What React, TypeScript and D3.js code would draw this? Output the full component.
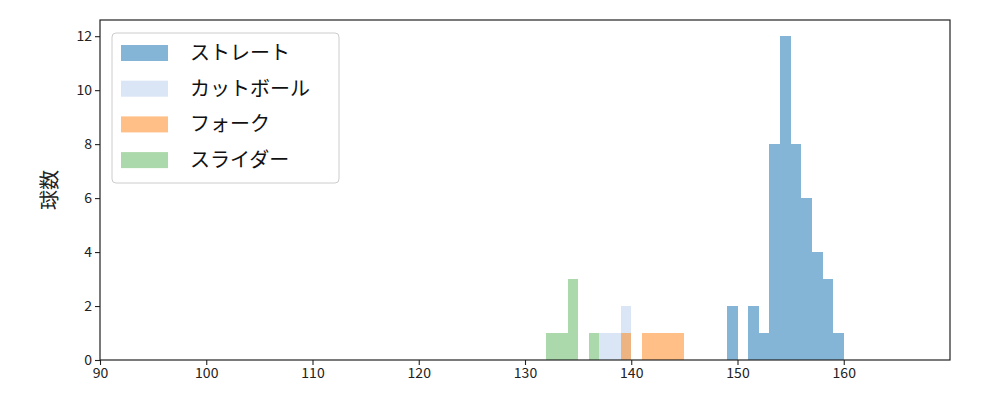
import React, { useEffect, useRef } from 'react';
import * as d3 from 'd3';

// histogram bins: left edge of each 1 km/h bin and the pitch count in it
const straightBins = [149, 150, 151, 152, 153, 154, 155, 156, 157, 158, 159];
const straightCounts = [2, 0, 2, 1, 8, 12, 8, 6, 4, 3, 1];
const cutBins = [137, 138, 139];
const cutCounts = [1, 1, 2];
const forkBins = [139, 140, 141, 142, 143, 144];
const forkCounts = [1, 0, 1, 1, 1, 1];
const sliderBins = [132, 133, 134, 135, 136];
const sliderCounts = [1, 1, 3, 0, 1];

const seriesNames = ['ストレート', 'カットボール', 'フォーク', 'スライダー'];
const seriesColors = ['#1f77b4', '#aec7e8', '#ff7f0e', '#2ca02c'];
const seriesOpacity = [0.55, 0.45, 0.5, 0.4];
const xTicks = [90, 100, 110, 120, 130, 140, 150, 160];
const yTicks = [0, 2, 4, 6, 8, 10, 12];

const FONT = '"Noto Sans CJK JP", "DejaVu Sans", sans-serif';

const App = () => {
  const ref = useRef<SVGSVGElement | null>(null);

  useEffect(() => {
    const svg = d3.select(ref.current);
    svg.selectAll('*').remove();

    const margin = { top: 20, right: 50, bottom: 40, left: 100 };
    const width = 1000 - margin.left - margin.right;
    const height = 400 - margin.top - margin.bottom;

    const g = svg.append('g').attr('transform', `translate(${margin.left},${margin.top})`);

    const x = d3.scaleLinear().domain([90, 170]).range([0, width]);
    const y = d3.scaleLinear().domain([0, 12.6]).range([height, 0]);

    const series = [
      { bins: straightBins, counts: straightCounts },
      { bins: cutBins, counts: cutCounts },
      { bins: forkBins, counts: forkCounts },
      { bins: sliderBins, counts: sliderCounts },
    ];

    series.forEach((s, i) => {
      g.append('g')
        .selectAll('rect')
        .data(s.bins.map((b, j) => ({ b, c: s.counts[j] })).filter(d => d.c > 0))
        .enter()
        .append('rect')
        .attr('x', d => x(d.b))
        .attr('width', d => x(d.b + 1) - x(d.b))
        .attr('y', d => y(d.c))
        .attr('height', d => y(0) - y(d.c))
        .attr('fill', seriesColors[i])
        .attr('fill-opacity', seriesOpacity[i])
        .attr('shape-rendering', 'crispEdges');
    });

    // axes
    const xAxis = g.append('g')
      .attr('transform', `translate(0,${height})`)
      .call(d3.axisBottom(x).tickValues(xTicks).tickSize(5).tickPadding(3).tickFormat(d3.format('d')));
    const yAxis = g.append('g')
      .call(d3.axisLeft(y).tickValues(yTicks).tickSize(5).tickPadding(3).tickFormat(d3.format('d')));

    [xAxis, yAxis].forEach(a => {
      a.select('.domain').remove();
      a.selectAll('line').attr('stroke', '#222').attr('stroke-width', 1.1);
      a.selectAll('text').attr('fill', '#222').style('font-family', FONT).style('font-size', '14px');
    });

    g.append('rect')
      .attr('width', width)
      .attr('height', height)
      .attr('fill', 'none')
      .attr('stroke', '#222')
      .attr('stroke-width', 1.2);

    g.append('text')
      .attr('transform', `translate(${-43},${height / 2}) rotate(-90)`)
      .attr('text-anchor', 'middle')
      .style('font-family', FONT)
      .style('font-size', '20px')
      .attr('fill', '#222')
      .text('球数');

    // legend
    const legend = g.append('g').attr('transform', 'translate(12,13)');
    legend.append('rect')
      .attr('width', 227)
      .attr('height', 150)
      .attr('rx', 4)
      .attr('fill', 'white')
      .attr('fill-opacity', 0.8)
      .attr('stroke', '#ccc');

    seriesNames.forEach((name, i) => {
      const row = legend.append('g').attr('transform', `translate(9,${19 + i * 35.7})`);
      row.append('rect')
        .attr('y', -7)
        .attr('width', 47)
        .attr('height', 16)
        .attr('fill', seriesColors[i])
        .attr('fill-opacity', seriesOpacity[i]);
      row.append('text')
        .attr('x', 69)
        .attr('y', 8)
        .style('font-family', FONT)
        .style('font-size', '20px')
        .attr('fill', '#111')
        .text(name);
    });
  }, []);

  return (
    <svg ref={ref} width={1000} height={400} style={{ display: 'block', margin: '-8px' }} />
  );
};

export default App;
